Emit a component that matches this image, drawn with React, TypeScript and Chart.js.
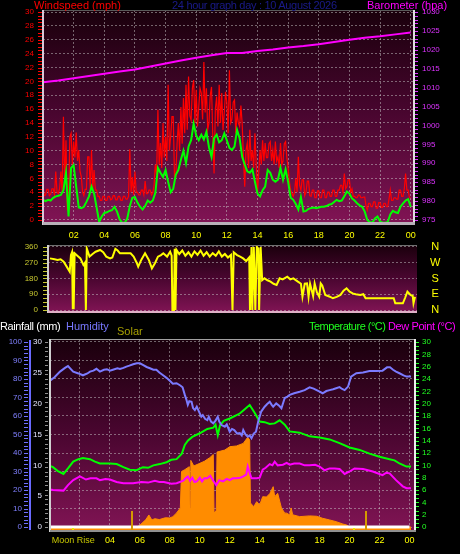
import React, { useEffect, useRef } from "react";
import { Chart, registerables } from "chart.js";

Chart.register(...registerables);

const FONT = '"Liberation Sans", Arial, Helvetica, sans-serif';
Chart.defaults.font.family = FONT;

// ---------------- DATA ----------------
const TITLE_WIND = "Windspeed (mph)";
const TITLE_MAIN = "24 hour graph day : 10 August 2026";
const TITLE_BARO = "Barometer (hpa)";
const TITLE_RAIN = "Rainfall (mm)";
const TITLE_HUM = "Humidity";
const TITLE_SOLAR = "Solar";
const TITLE_TEMP = "Temperature (°C)";
const TITLE_DEW = "Dew Point (°C)";

const hourTicks = [2, 4, 6, 8, 10, 12, 14, 16, 18, 20, 22, 24];
const speedTicks = [0, 2, 4, 6, 8, 10, 12, 14, 16, 18, 20, 22, 24, 26, 28, 30];
const baroTicks = [975, 980, 985, 990, 995, 1000, 1005, 1010, 1015, 1020, 1025, 1030];
const dirTicks = [0, 90, 180, 270, 360];
const compassLabels = ["N", "E", "S", "W", "N"];
const humTicks = [0, 10, 20, 30, 40, 50, 60, 70, 80, 90, 100];
const rainTicks = [0, 5, 10, 15, 20, 25, 30];
const tempTicks = [0, 2, 4, 6, 8, 10, 12, 14, 16, 18, 20, 22, 24, 26, 28, 30];

// average wind: a sample every 10 minutes, 00:00 .. 24:00
const avgSampleMinutes = 10;
const windAvg = [
  2.9, 2.7, 2.9, 2.8, 3.2, 3.4,
  3.5, 3.6, 4.3, 6.8, 0.5, 7.5,
  7.9, 4.8, 1.8, 1.7, 1.9, 2.6,
  3.4, 4.8, 3.8, 1.8, -0.3, 0.5,
  1.0, 1.1, 1.3, 1.4, 1.9, 1.2,
  0.1, -0.4, -0.4, 0.2, 2.0, 3.2,
  3.3, 2.5, 1.9, 1.5, 2.0, 2.8,
  2.5, 2.8, 3.9, 7.5, 6.8, 6.2,
  7.2, 5.5, 4.0, 4.5, 6.5, 7.2,
  8.7, 10.0, 8.2, 10.6, 11.5, 13.9,
  12.2, 11.5, 12.3, 11.6, 12.7, 10.5,
  9.1, 11.8, 12.3, 11.2, 11.5, 12.5,
  11.5, 10.4, 10.1, 10.6, 13.0, 11.8,
  9.1, 8.0, 7.0, 6.8, 7.3, 5.5,
  3.8, 3.4, 4.3, 4.8, 7.2, 6.8,
  5.8, 5.5, 5.8, 7.5, 5.8, 7.3,
  5.5, 3.2, 2.9, 2.3, 1.5, 3.3,
  1.2, 1.3, 1.6, 1.7, 1.8, 1.7,
  1.8, 1.9, 1.9, 2.0, 2.2, 2.3,
  2.6, 2.9, 2.7, 2.8, 3.4, 4.1,
  3.8, 3.1, 2.8, 2.4, 2.1, 1.9,
  1.2, 0.0, -0.3, -0.4, 0.2, 0.5,
  -0.2, -0.4, -0.4, -0.3, 0.8, 1.3,
  1.1, 1.0, 1.9, 2.4, 2.8, 3.0,
  1.9,
];
// gusts: a sample every 5 minutes, 00:00 .. 24:00
const gustSampleMinutes = 5;
const windGust = [
  4.5, 3.5, 3.6, 4.4, 4.4, 3.5, 3.7, 4.5, 4.5, 3.6, 7.0, 4.0,
  3.8, 4.5, 7.0, 4.0, 14.9, 5.0, 11.5, 1.5, 1.5, 12.0, 12.5, 8.0,
  11.3, 9.0, 12.6, 8.5, 10.1, 7.0, 6.2, 4.0, 3.5, 4.4, 4.4, 9.1,
  9.1, 4.5, 10.1, 4.5, 7.2, 4.3, 4.3, 3.4, 3.4, 2.8, 2.8, 3.4,
  3.4, 2.8, 2.8, 3.4, 3.4, 2.9, 3.0, 3.5, 3.5, 2.9, 2.9, 3.4,
  3.4, 2.8, 2.8, 3.4, 3.4, 3.0, 3.0, 3.4, 10.2, 4.0, 6.2, 3.6,
  7.0, 4.0, 4.0, 3.6, 3.6, 4.3, 4.3, 3.6, 5.6, 3.8, 3.8, 4.3,
  4.3, 3.6, 3.9, 5.0, 8.0, 6.5, 15.9, 8.0, 11.1, 7.5, 14.0, 9.0,
  12.0, 8.5, 19.5, 10.0, 12.0, 14.9, 14.9, 6.2, 6.2, 11.0, 14.0, 10.0,
  16.3, 11.0, 17.6, 12.5, 19.5, 13.0, 20.7, 15.0, 14.4, 19.0, 20.2, 14.0,
  18.8, 13.5, 16.3, 19.0, 18.3, 14.5, 22.8, 15.5, 19.0, 13.0, 14.0, 18.0,
  19.2, 12.0, 6.7, 16.0, 17.8, 13.5, 19.5, 14.0, 18.3, 13.0, 15.5, 18.5,
  16.9, 12.5, 21.6, 14.0, 14.5, 17.0, 17.3, 12.5, 15.5, 14.0, 13.5, 16.5,
  13.9, 9.0, 4.8, 10.0, 11.1, 7.5, 13.0, 8.5, 10.1, 7.5, 12.5, 8.0,
  3.9, 7.0, 10.1, 8.0, 11.5, 8.5, 11.1, 9.0, 9.0, 11.0, 11.3, 8.5,
  10.1, 8.0, 11.3, 8.5, 9.1, 7.5, 11.1, 8.0, 8.5, 11.0, 11.3, 9.0,
  7.5, 5.5, 4.3, 3.8, 3.4, 4.0, 6.0, 4.0, 9.1, 5.0, 4.3, 5.8,
  5.8, 3.5, 4.0, 5.6, 5.6, 3.5, 3.4, 4.3, 4.3, 3.2, 3.2, 4.2,
  4.2, 3.2, 3.2, 4.3, 4.3, 3.2, 3.2, 4.0, 4.0, 3.4, 3.4, 4.3,
  4.3, 3.4, 3.4, 4.3, 4.3, 5.0, 5.0, 4.0, 6.7, 4.5, 4.8, 5.8,
  5.8, 4.0, 4.5, 3.4, 3.4, 3.2, 3.2, 3.6, 3.6, 3.2, 3.2, 3.3,
  3.3, 2.0, 1.4, 2.4, 2.4, 1.9, 1.9, 2.6, 2.6, 1.7, 1.7, 2.5,
  2.5, 1.8, 1.8, 2.4, 2.4, 1.9, 1.9, 3.0, 4.3, 2.8, 2.8, 3.2,
  3.2, 3.0, 3.0, 4.3, 4.3, 3.4, 3.4, 4.5, 6.7, 4.3, 4.3, 3.2,
  3.2,
];

const baroHours = [0, 1, 2, 3, 4, 5, 6, 7, 8, 9, 10, 11, 12, 13, 14, 15, 16, 17, 18, 19, 20, 21, 22, 23, 24];
const baroValues = [
  1011.4, 1011.9, 1012.5, 1013.1, 1013.7, 1014.3, 1014.8, 1015.6, 1016.4, 1017.2, 1017.9, 1018.6,
  1019.2, 1019.2, 1019.7, 1020.1, 1020.6, 1021.0, 1021.5, 1022.1, 1022.7, 1023.2, 1023.6, 1024.1, 1024.6,
];

const dirTimes = [
  0, 0.3, 0.5, 0.7, 0.9, 1.1, 1.3, 1.38, 1.45, 1.5, 1.56, 1.62, 1.8, 2.0, 2.2, 2.3, 2.36, 2.42, 2.6, 2.8,
  3.0, 3.3, 3.5, 3.7, 3.95, 4.1, 4.3, 4.45, 4.6, 5.3, 5.5, 5.7, 5.8, 6.0, 6.25, 6.5, 6.7, 6.9, 7.1, 7.3,
  7.45, 7.7, 7.9, 8.0, 8.05, 8.15, 8.2, 8.25, 8.32, 8.5, 8.7, 8.9, 9.1, 9.3, 9.5, 9.7, 9.9, 10.1, 10.3, 10.5,
  10.7, 10.9, 11.1, 11.3, 11.5, 11.7, 11.9, 12.0, 12.08, 12.3, 12.5, 12.7, 12.9, 13.1, 13.15, 13.25, 13.3, 13.4, 13.5, 13.6,
  13.7, 13.75, 13.85, 13.95, 14.1, 14.3, 14.5, 14.7, 14.9, 15.1, 15.3, 15.6, 15.8, 16.0, 16.3, 16.5, 16.6, 16.75, 16.9, 17.0,
  17.1, 17.3, 17.4, 17.55, 17.7, 17.8, 17.9, 18.1, 18.4, 18.6, 18.85, 19.1, 19.3, 19.5, 19.7, 19.9, 20.1, 20.4, 20.6, 20.75,
  21.5, 22.6, 22.7, 23.2, 23.35, 23.5, 23.7, 23.85, 23.9, 24.0,
];
const dirValues = [
  295, 290, 286, 290, 276, 248, 219, 314, 330, 10, 10, 324, 310, 295, 257, 270, 0, 352, 305, 320,
  333, 343, 330, 305, 295, 300, 349, 340, 324, 324, 305, 270, 248, 286, 324, 286, 238, 267, 305, 314,
  324, 305, 333, 310, 0, 0, 350, 0, 343, 320, 340, 310, 330, 305, 335, 315, 340, 310, 330, 305,
  325, 310, 335, 305, 320, 300, 315, 0, 330, 314, 305, 295, 280, 300, 0, 360, 0, 360, 0, 360,
  350, 0, 360, 170, 181, 170, 162, 150, 143, 181, 175, 190, 175, 181, 162, 150, 76, 150, 152, 76,
  150, 80, 152, 100, 76, 152, 140, 86, 76, 67, 75, 86, 110, 124, 105, 95, 90, 86, 90, 67,
  67, 67, 38, 38, 70, 105, 86, 80, 38, 75,
];

const humTimes = [
  0, 0.3, 0.67, 1.0, 1.2, 1.55, 1.9, 2.2, 2.5, 2.67, 2.9, 3.1, 3.33, 3.6, 3.8, 4.0, 4.2, 4.5, 4.67, 4.9,
  5.1, 5.3, 5.55, 5.8, 6.0, 6.2, 6.45, 6.67, 6.9, 7.1, 7.3, 7.55, 7.8, 8.0, 8.2, 8.45, 8.7, 8.85, 9.0, 9.1,
  9.2, 9.3, 9.45, 9.55, 9.67, 9.8, 9.9, 10.1, 10.2, 10.35, 10.5, 10.6, 10.75, 10.9, 11.05, 11.2, 11.3, 11.45, 11.67, 11.8,
  12.0, 12.15, 12.3, 12.5, 12.67, 12.8, 12.9, 13.05, 13.2, 13.33, 13.45, 13.6, 13.75, 13.9, 14.1, 14.33, 14.5, 14.67, 14.8, 14.9,
  15.1, 15.3, 15.45, 15.67, 15.85, 16.0, 16.3, 16.67, 17.0, 17.33, 17.6, 17.8, 18.0, 18.2, 18.45, 18.67, 18.9, 19.1, 19.33, 19.5,
  19.67, 19.9, 20.1, 20.45, 20.9, 21.33, 21.78, 22.2, 22.5, 22.7, 22.9, 23.1, 23.33, 23.6, 23.8, 24.1,
];
const humValues = [
  79, 81, 84, 86, 87, 84, 83, 82, 83, 84, 84.5, 85.5, 84, 85, 85.3, 84.5, 85, 85.8, 85.4, 86,
  86.7, 87.2, 88, 88.5, 88.5, 87.6, 86.5, 85.8, 85, 85, 83.5, 82, 80.5, 79, 77.5, 77.7, 76.5, 75.5, 71.4, 69,
  66, 68, 67.7, 64.3, 63.2, 65, 63.2, 59.6, 60.5, 58.5, 57.8, 59.6, 57, 56, 57.5, 59.6, 57, 55.1, 54.2, 55.5,
  51.5, 53, 52.4, 50.5, 50.8, 49.5, 52.4, 50, 48.8, 49.5, 48, 50.5, 51.5, 57, 62.4, 65, 66.5, 67.7, 66, 65,
  66.8, 65.5, 64.2, 69.7, 70.5, 71.4, 72.3, 73.1, 74, 75.5, 74.8, 74, 73.2, 72.3, 73.5, 74, 74.5, 75, 75.6, 74.6,
  74, 75.9, 81.3, 83.1, 83.5, 84.3, 84.3, 84.5, 86.3, 86.3, 85, 84, 83.1, 82, 81.3, 81.3,
];

const tempTimes = [
  0, 0.2, 0.5, 0.9, 1.2, 1.55, 1.9, 2.2, 2.67, 3.0, 3.33, 4.0, 4.45, 4.9, 5.33, 5.78, 6.2, 6.55, 6.9, 7.33,
  7.78, 8.1, 8.45, 8.8, 9.0, 9.2, 9.5, 10.0, 10.5, 10.9, 11.05, 11.2, 11.35, 11.6, 12.0, 12.67, 13.0, 13.33, 13.67, 14.0,
  14.33, 14.67, 15.0, 15.33, 15.67, 16.0, 16.67, 17.33, 18.0, 18.67, 19.33, 20.0, 20.67, 21.33, 22.0, 22.67, 23.0, 23.33, 23.8, 24.1,
];
const tempValues = [
  9.9, 9.7, 9.1, 8.6, 9.5, 10.6, 11.0, 11.2, 11.0, 10.6, 10.3, 10.3, 10.2, 9.7, 9.3, 9.2, 9.7, 9.6, 10.0, 10.2,
  10.5, 10.9, 11.0, 11.9, 13.3, 14.0, 14.6, 15.2, 15.9, 16.1, 16.6, 14.9, 16.5, 17.2, 17.6, 18.4, 19.1, 19.8, 18.5, 17.1,
  17.0, 16.7, 16.8, 17.3, 16.6, 15.5, 15.3, 14.7, 14.5, 14.2, 13.6, 12.9, 12.5, 11.9, 11.4, 11.0, 10.8, 10.3, 9.8, 9.8,
];

const dewTimes = [
  0, 0.2, 0.9, 1.2, 1.55, 2.0, 2.4, 2.7, 3.1, 3.33, 3.7, 4.0, 4.45, 4.9, 5.55, 6.1, 6.55, 7.0, 7.3, 7.6,
  8.1, 8.45, 8.9, 9.05, 9.2, 9.35, 9.5, 9.65, 9.8, 10.0, 10.15, 10.3, 10.5, 10.7, 10.9, 11.1, 11.3, 11.55, 11.8, 12.0,
  12.2, 12.45, 12.7, 12.9, 13.1, 13.2, 13.3, 13.45, 13.8, 14.0, 14.2, 14.4, 14.67, 14.85, 15.0, 15.2, 15.55, 15.8, 16.0, 16.3,
  16.67, 17.0, 17.33, 17.7, 18.0, 18.33, 18.67, 19.0, 19.33, 19.67, 20.0, 20.33, 20.9, 21.55, 22.2, 22.45, 22.67, 23.1, 23.55, 23.8,
  24.1,
];
const dewValues = [
  6.1, 6.0, 5.9, 6.8, 7.6, 8.2, 7.7, 7.9, 7.9, 7.6, 7.8, 7.7, 7.3, 7.1, 7.1, 7.3, 7.2, 7.5, 7.3, 7.3,
  7.0, 7.1, 7.5, 7.9, 8.2, 7.5, 8.0, 7.3, 7.4, 8.0, 7.4, 7.9, 7.9, 8.3, 7.5, 6.8, 7.6, 7.4, 7.8, 7.6,
  7.9, 7.9, 8.0, 8.2, 8.5, 9.8, 9.0, 7.9, 7.9, 8.0, 9.3, 9.6, 10.2, 10.0, 10.6, 10.0, 10.1, 10.4, 10.1, 10.3,
  10.3, 10.0, 10.0, 10.1, 9.8, 9.2, 9.5, 9.5, 9.4, 8.6, 9.0, 9.5, 9.4, 9.0, 8.4, 8.8, 8.7, 7.6, 6.6, 6.3,
  6.3,
];

const solarTimes = [
  0, 5.8, 6.0, 6.4, 6.6, 6.8, 7.0, 7.3, 7.7, 8.0, 8.2, 8.45, 8.7, 8.78, 9.0, 9.3, 9.35, 9.4, 9.6, 10.0,
  10.3, 10.67, 10.9, 10.95, 11.1, 11.15, 11.67, 12.0, 12.45, 12.9, 13.2, 13.33, 13.38, 13.6, 13.8, 14.0, 14.2, 14.45, 14.67, 14.9,
  15.0, 15.2, 15.45, 15.67, 15.8, 16.0, 16.1, 16.2, 16.67, 17.33, 17.8, 18.2, 18.67, 19.1, 19.55, 19.8, 20.0, 24.1,
];
const solarValues = [
  0, 0, 10, 40, 65, 38, 45, 40, 50, 49, 56, 76, 103, 300, 310, 326, 100, 360, 330, 344,
  355, 375, 392, 75, 90, 405, 416, 434, 438, 452, 485, 470, 130, 110, 137, 119, 164, 162, 180, 218,
  164, 182, 103, 75, 75, 65, 103, 66, 56, 60, 58, 47, 38, 29, 16, 11, 0, 0,
];

const rainHours = [0, 1, 2, 3, 4, 5, 6, 7, 8, 9, 10, 11, 12, 13, 14, 15, 16, 17, 18, 19, 20, 21, 22, 23, 24];
const rainValues = [0, 0, 0, 0, 0, 0, 0, 0, 0, 0, 0, 0, 0, 0, 0, 0, 0, 0, 0, 0, 0, 0, 0, 0, 0];

const sunTimes = [5.5, 21.07];
const moonTimes = [1.55, 20.3];
const moonLabel = "Moon Rise";

// ---------------- STYLE ----------------
const GRID = "rgba(200,200,200,0.5)";
const DASH = [2, 2];
const SUN_MARK_TOP = 2.6; // in °C-axis units

const hh = (v: number) => {
  const h = Math.round(v) % 24;
  return (h < 10 ? "0" : "") + h;
};
const setTicks = (vals: number[]) => (s: any) => {
  s.ticks = vals.map((v) => ({ value: v }));
};
const fitW = (w: number) => (s: any) => {
  s.width = w;
  s.paddingTop = 0;
  s.paddingBottom = 0;
};
const fitH = (h: number) => (s: any) => {
  s.height = h;
  s.paddingLeft = 0;
  s.paddingRight = 0;
};
const xy = (xs: number[], ys: number[]) => xs.map((x, i) => ({ x, y: ys[i] }));

const bgPlugin = {
  id: "bgGrad",
  beforeDraw(chart: any) {
    const { ctx, chartArea: a } = chart;
    const g = ctx.createLinearGradient(0, a.top, 0, a.bottom);
    g.addColorStop(0, "#1a000c");
    g.addColorStop(0.5, "#4a0630");
    g.addColorStop(1, "#801454");
    ctx.save();
    ctx.fillStyle = g;
    ctx.fillRect(a.left, a.top, a.right - a.left, a.bottom - a.top);
    ctx.restore();
  },
};

type Seg = { color: string; width: number; get: (a: any) => number[] };
function framePlugin(id: string, segs: Seg[]) {
  return {
    id,
    afterDraw(chart: any) {
      const { ctx, chartArea: a } = chart;
      ctx.save();
      for (const s of segs) {
        const [x1, y1, x2, y2] = s.get(a);
        ctx.strokeStyle = s.color;
        ctx.lineWidth = s.width;
        ctx.beginPath();
        ctx.moveTo(x1, y1);
        ctx.lineTo(x2, y2);
        ctx.stroke();
      }
      ctx.restore();
    },
  };
}

type Minor = { scale: string; from: number; to: number; step: number; len: number; gap: number; color: string };
function minorPlugin(id: string, specs: Minor[]) {
  return {
    id,
    afterDraw(chart: any) {
      const { ctx } = chart;
      ctx.save();
      ctx.lineWidth = 1;
      for (const m of specs) {
        const s = chart.scales[m.scale];
        const left = s.position === "left";
        const x0 = left ? s.right - m.gap : s.left + m.gap;
        const x1 = left ? x0 - m.len : x0 + m.len;
        ctx.strokeStyle = m.color;
        ctx.beginPath();
        for (let k = 0; ; k++) {
          const v = m.from + k * m.step;
          if (v > m.to + 1e-9) break;
          const y = Math.round(s.getPixelForValue(v)) + 0.5;
          ctx.moveTo(x0, y);
          ctx.lineTo(x1, y);
        }
        ctx.stroke();
      }
      ctx.restore();
    },
  };
}

const markerPlugin = {
  id: "sunMoon",
  afterDatasetsDraw(chart: any) {
    const { ctx, chartArea: a } = chart;
    const xs = chart.scales.x;
    const ts = chart.scales.temp;
    ctx.save();
    ctx.fillStyle = "#d49a00";
    for (const t of sunTimes) {
      const px = Math.round(xs.getPixelForValue(t));
      const top = ts.getPixelForValue(SUN_MARK_TOP);
      ctx.fillRect(px - 1, top, 2, a.bottom + 1 - top);
    }
    ctx.fillStyle = "#e8e800";
    for (const t of moonTimes) {
      const px = Math.round(xs.getPixelForValue(t));
      ctx.fillRect(px - 1, a.bottom - 2, 2, 3);
    }
    ctx.restore();
  },
};

const baseOptions = (padding: any) => ({
  responsive: false,
  animation: false,
  events: [],
  layout: { padding, autoPadding: false },
  elements: { point: { radius: 0 }, line: { tension: 0 } },
  plugins: { legend: { display: false }, tooltip: { enabled: false } },
});

function windConfig(): any {
  const avgX = windAvg.map((_, i) => (i * avgSampleMinutes) / 60);
  const gustX = windGust.map((_, i) => (i * gustSampleMinutes) / 60);
  return {
    type: "line",
    data: {
      datasets: [
        { label: "Average", data: xy(avgX, windAvg), borderColor: "#00ff00", borderWidth: 2, yAxisID: "y" },
        { label: "Gust", data: xy(gustX, windGust), borderColor: "#ff0000", borderWidth: 1.2, yAxisID: "y" },
        { label: "Barometer", data: xy(baroHours, baroValues), borderColor: "#ff00ff", borderWidth: 2, yAxisID: "yB" },
      ],
    },
    options: {
      ...baseOptions({ top: 10, left: 0, right: 0, bottom: 0 }),
      scales: {
        x: {
          type: "linear", min: 0, max: 24.15,
          afterBuildTicks: setTicks(hourTicks),
          afterFit: fitH(24),
          ticks: { color: "#ffff00", font: { size: 9 }, padding: 8, autoSkip: false, maxRotation: 0, callback: (v: number) => hh(v) },
          grid: { color: GRID, drawTicks: false },
          border: { display: false, dash: DASH },
        },
        y: {
          position: "left", min: -0.3, max: 30.3,
          afterBuildTicks: setTicks(speedTicks),
          afterFit: fitW(43),
          ticks: { color: "#ff0000", font: { size: 8 }, padding: 9, autoSkip: false, callback: (v: number) => String(v) },
          grid: { color: GRID, drawTicks: false },
          border: { display: false, dash: DASH },
        },
        yB: {
          position: "right", min: 974.45, max: 1030.55,
          afterBuildTicks: setTicks(baroTicks),
          afterFit: fitW(47),
          ticks: { color: "#dd33ff", font: { size: 8 }, padding: 9, autoSkip: false, callback: (v: number) => String(v) },
          grid: { display: false, drawTicks: false },
          border: { display: false },
        },
      },
    },
    plugins: [
      bgPlugin,
      framePlugin("frame1", [
        { color: "#5a5a5a", width: 1, get: (a) => [a.left, a.top + 0.5, a.right, a.top + 0.5] },
        { color: "#d8c8d8", width: 2, get: (a) => [a.left, a.top, a.left, a.bottom + 3] },
        { color: "#e0e0e0", width: 2, get: (a) => [a.right + 1, a.top, a.right + 1, a.bottom + 3] },
        { color: "#b8b0b8", width: 3, get: (a) => [a.left, a.bottom + 1.5, a.right + 2, a.bottom + 1.5] },
      ]),
      minorPlugin("minor1", [
        { scale: "y", from: 0, to: 30, step: 0.5, len: 4, gap: 1, color: "#ff0000" },
        { scale: "yB", from: 975, to: 1030, step: 1, len: 3, gap: 2, color: "#dd33ff" },
      ]),
    ],
  };
}

function dirConfig(): any {
  return {
    type: "line",
    data: {
      datasets: [
        { label: "Direction", data: xy(dirTimes, dirValues), borderColor: "#ffff00", borderWidth: 2, yAxisID: "y" },
      ],
    },
    options: {
      ...baseOptions({ top: 7, left: 0, right: 0, bottom: 8 }),
      scales: {
        x: { type: "linear", min: -0.13, max: 24.13, display: false },
        y: {
          position: "left", min: -11.4, max: 371.4,
          afterBuildTicks: setTicks(dirTicks),
          afterFit: fitW(48),
          ticks: { color: "#c8c830", font: { size: 8 }, padding: 10, autoSkip: false },
          grid: { color: GRID, drawTicks: false },
          border: { display: false, dash: DASH },
        },
        compass: {
          position: "right", min: -11.4, max: 371.4,
          afterBuildTicks: setTicks(dirTicks),
          afterFit: fitW(43),
          ticks: {
            color: "#ffff00", font: { size: 11 }, padding: 13, autoSkip: false, crossAlign: "center",
            callback: (v: number) => compassLabels[dirTicks.indexOf(v)],
          },
          grid: { display: false, drawTicks: false },
          border: { display: false },
        },
      },
    },
    plugins: [
      bgPlugin,
      framePlugin("frame2", [
        { color: "#707070", width: 1, get: (a) => [a.left, a.top + 0.5, a.right, a.top + 0.5] },
        { color: "#d0d0d0", width: 2, get: (a) => [a.left, a.top, a.left, a.bottom + 1] },
        { color: "#e0b0c8", width: 2, get: (a) => [a.left, a.bottom, a.right, a.bottom] },
      ]),
      minorPlugin("minor2", [
        { scale: "y", from: 0, to: 360, step: 22.5, len: 4, gap: 1, color: "#c8c830" },
      ]),
    ],
  };
}

function climateConfig(): any {
  const xTicks = [moonTimes[0], ...hourTicks];
  return {
    type: "line",
    data: {
      datasets: [
        { label: "Rainfall", data: xy(rainHours, rainValues), borderColor: "#ffffff", borderWidth: 3, yAxisID: "rain" },
        { label: "Humidity", data: xy(humTimes, humValues), borderColor: "#7b7bff", borderWidth: 2, yAxisID: "hum" },
        { label: "Temperature", data: xy(tempTimes, tempValues), borderColor: "#00ff00", borderWidth: 2, yAxisID: "temp" },
        { label: "Dew Point", data: xy(dewTimes, dewValues), borderColor: "#ff00ff", borderWidth: 2, yAxisID: "temp" },
        {
          label: "Solar", data: xy(solarTimes, solarValues), borderColor: "#ff8c00", backgroundColor: "#ff8c00",
          borderWidth: 1, fill: "start", yAxisID: "solar",
        },
      ],
    },
    options: {
      ...baseOptions({ top: 21, left: 0, right: 0, bottom: 0 }),
      scales: {
        x: {
          type: "linear", min: 0, max: 24.3,
          afterBuildTicks: setTicks(xTicks),
          afterFit: fitH(24),
          ticks: {
            color: (c: any) => (c.tick && c.tick.value === moonTimes[0] ? "#c8c800" : "#ffff00"),
            font: { size: 9 }, padding: 5, autoSkip: false, maxRotation: 0,
            callback: (v: number) => (v === moonTimes[0] ? moonLabel : v === 2 ? "" : hh(v)),
          },
          grid: {
            color: (c: any) => (c.tick && c.tick.value === moonTimes[0] ? "rgba(0,0,0,0)" : GRID),
            drawTicks: false,
          },
          border: { display: false, dash: DASH },
        },
        hum: {
          position: "left", weight: 1, min: -1.62, max: 101.62,
          afterBuildTicks: setTicks(humTicks),
          afterFit: fitW(30),
          ticks: { color: "#8080ff", font: { size: 8 }, padding: 8, autoSkip: false },
          grid: { color: GRID, drawTicks: false },
          border: { display: false, dash: DASH },
        },
        rain: {
          position: "left", weight: 0, min: -0.486, max: 30.486,
          afterBuildTicks: setTicks(rainTicks),
          afterFit: fitW(20),
          ticks: { color: "#e8e8ff", font: { size: 8 }, padding: 8, autoSkip: false },
          grid: { display: false, drawTicks: false },
          border: { display: false },
        },
        temp: {
          position: "right", min: -0.486, max: 30.486,
          afterBuildTicks: setTicks(tempTicks),
          afterFit: fitW(46),
          ticks: { color: "#22ff22", font: { size: 8 }, padding: 8, autoSkip: false },
          grid: { display: false, drawTicks: false },
          border: { display: false },
        },
        solar: { position: "left", min: -16.2, max: 1016.2, display: false },
      },
    },
    plugins: [
      bgPlugin,
      markerPlugin,
      framePlugin("frame3", [
        { color: "#a0a0a0", width: 1, get: (a) => [a.left, a.top + 0.5, a.right, a.top + 0.5] },
        { color: "#d0d0d0", width: 2, get: (a) => [a.left, a.top, a.left, a.bottom + 2] },
        { color: "#f0f0f0", width: 2, get: (a) => [a.right + 1, a.top, a.right + 1, a.bottom + 2] },
        { color: "#909090", width: 2, get: (a) => [a.left, a.bottom + 1, a.right + 2, a.bottom + 1] },
        { color: "#6a6aff", width: 2, get: (a) => [a.left - 20, a.top + 1, a.left - 20, a.bottom] },
      ]),
      minorPlugin("minor3", [
        { scale: "hum", from: 0, to: 100, step: 2, len: 4, gap: 2, color: "#7070ff" },
        { scale: "rain", from: 0, to: 30, step: 0.75, len: 3, gap: 2, color: "#909090" },
        { scale: "temp", from: 0, to: 30, step: 2 / 3, len: 3, gap: 2, color: "#22ff22" },
      ]),
    ],
  };
}

const Txt = (p: { x: number; y: number; color: string; size?: number; ls?: number; children: React.ReactNode }) => {
  const size = p.size || 11;
  return (
    <div
      style={{
        position: "absolute", left: p.x, top: p.y, color: p.color, fontSize: size,
        lineHeight: `${size}px`, whiteSpace: "nowrap", fontFamily: FONT, letterSpacing: p.ls || 0,
      }}
    >
      {p.children}
    </div>
  );
};

export default function App() {
  const r1 = useRef<HTMLCanvasElement>(null);
  const r2 = useRef<HTMLCanvasElement>(null);
  const r3 = useRef<HTMLCanvasElement>(null);

  useEffect(() => {
    document.body.style.margin = "0";
    document.body.style.background = "#000";
    const c1 = new Chart(r1.current as HTMLCanvasElement, windConfig());
    const c2 = new Chart(r2.current as HTMLCanvasElement, dirConfig());
    const c3 = new Chart(r3.current as HTMLCanvasElement, climateConfig());
    return () => {
      c1.destroy();
      c2.destroy();
      c3.destroy();
    };
  }, []);

  return (
    <div style={{ position: "relative", width: 460, height: 554, background: "#000", overflow: "hidden" }}>
      <canvas ref={r1} width={460} height={246} style={{ position: "absolute", left: 0, top: 0, width: 460, height: 246 }} />
      <canvas ref={r2} width={460} height={82} style={{ position: "absolute", left: 0, top: 238, width: 460, height: 82 }} />
      <canvas ref={r3} width={460} height={236} style={{ position: "absolute", left: 0, top: 318, width: 460, height: 236 }} />
      <Txt x={34} y={0} color="#ff0000">{TITLE_WIND}</Txt>
      <Txt x={172} y={0} color="#1a1a8a" ls={-0.3}>{TITLE_MAIN}</Txt>
      <Txt x={367} y={0} color="#ff00ff">{TITLE_BARO}</Txt>
      <Txt x={0} y={321} color="#ffffff" ls={-0.4}>{TITLE_RAIN}</Txt>
      <Txt x={66} y={321} color="#7878ff">{TITLE_HUM}</Txt>
      <Txt x={117} y={326} color="#a8a000">{TITLE_SOLAR}</Txt>
      <Txt x={309} y={321} color="#20ff20" ls={-0.5}>{TITLE_TEMP}</Txt>
      <Txt x={388} y={321} color="#ff00ff" ls={-0.4}>{TITLE_DEW}</Txt>
    </div>
  );
}
